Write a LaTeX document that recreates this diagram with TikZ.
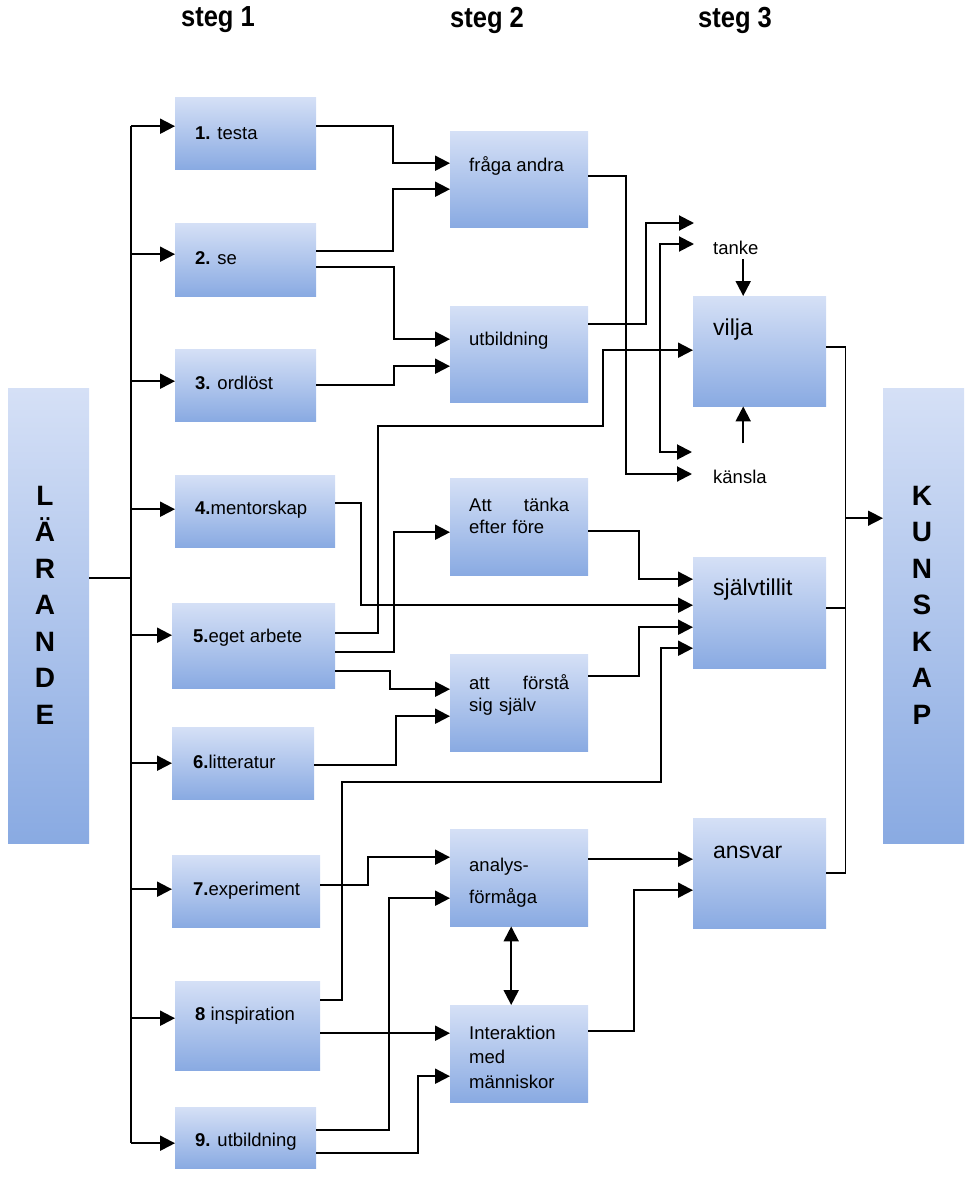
\documentclass[tikz,border=0pt]{standalone}
\usepackage{fontspec}
\setmainfont{Liberation Sans}
\usetikzlibrary{arrows.meta}
\definecolor{boxtop}{RGB}{213,224,246}
\definecolor{boxbot}{RGB}{137,170,226}
\begin{document}
\begin{tikzpicture}[x=1pt,y=-1pt,
	box/.style={anchor=north west, inner sep=0pt, top color=boxtop, bottom color=boxbot},
	sz/.style 2 args={minimum width=#1pt, minimum height=#2pt},
	txt/.style={inner sep=0pt, font=\fontsize{18.5}{22}\selectfont},
	big/.style={inner sep=0pt, anchor=west, font=\fontsize{23}{26}\selectfont},
	head/.style={inner sep=0pt, font=\bfseries\fontsize{29}{32}\selectfont},
	tall/.style={inner sep=0pt, align=center, font=\bfseries\fontsize{28}{36.5}\selectfont},
	link/.style={line width=2pt},
	rlink/.style={line width=1.5pt},
	arr/.style={line width=2pt, -{Triangle[length=15pt,width=15pt]}},
	dbl/.style={line width=2pt, {Triangle[length=15pt,width=15pt]}-{Triangle[length=15pt,width=15pt]}}]
	\useasboundingbox (0,0) rectangle (969,1178);
	% headings
	\node[head] (h1) at (218,20) {\scalebox{.88}[1]{steg 1}};
	\node[head] (h2) at (487,20) {\scalebox{.88}[1]{steg 2}};
	\node[head] (h3) at (735,20) {\scalebox{.88}[1]{steg 3}};
	% the two bars
	\node[box, sz={81}{455}] (lar) at (8,388) {};
	\node[tall] (lar-t) at (45,605) {L\\Ä\\R\\A\\N\\D\\E};
	\node[box, sz={81}{455}] (kun) at (883,388) {};
	\node[tall] (kun-t) at (922,605) {K\\U\\N\\S\\K\\A\\P};
	% steg 1
	\node[box, sz={141}{72}] (testa) at (175,97) {};
	\node[box, sz={141}{73}] (se) at (175,223) {};
	\node[box, sz={141}{72}] (ordlost) at (175,349) {};
	\node[box, sz={160}{72}] (mentor) at (175,475) {};
	\node[box, sz={163}{85}] (eget) at (172,603) {};
	\node[box, sz={142}{72}] (litt) at (172,727) {};
	\node[box, sz={148}{72}] (exper) at (172,855) {};
	\node[box, sz={145}{89}] (insp) at (175,981) {};
	\node[box, sz={141}{61}] (utb9) at (175,1107) {};
	\node[txt, anchor=west] (testa-t) at ([xshift=20pt]testa.west) {\textbf{1.} testa};
	\node[txt, anchor=west] (se-t) at ([xshift=20pt,yshift=1.5pt]se.west) {\textbf{2.} se};
	\node[txt, anchor=west] (ordlost-t) at ([xshift=20pt,yshift=2pt]ordlost.west) {\textbf{3.} ordlöst};
	\node[txt, anchor=west] (mentor-t) at ([xshift=20pt,yshift=1pt]mentor.west) {\textbf{4.}mentorskap};
	\node[txt, anchor=west] (eget-t) at ([xshift=21pt,yshift=7.5pt]eget.west) {\textbf{5.}eget arbete};
	\node[txt, anchor=west] (litt-t) at ([xshift=21pt,yshift=1pt]litt.west) {\textbf{6.}litteratur};
	\node[txt, anchor=west] (exper-t) at ([xshift=21pt]exper.west) {\textbf{7.}experiment};
	\node[txt, anchor=west] (insp-t) at ([xshift=20pt,yshift=9.5pt]insp.west) {\textbf{8} inspiration};
	\node[txt, anchor=west] (utb9-t) at ([xshift=20pt,yshift=-4.5pt]utb9.west) {\textbf{9.} utbildning};
	% steg 2
	\node[box, sz={138}{96}] (fraga) at (450,131) {};
	\node[box, sz={138}{96}] (utb2) at (450,306) {};
	\node[box, sz={138}{97}] (tanka) at (450,478) {};
	\node[box, sz={138}{97}] (forsta) at (450,654) {};
	\node[box, sz={138}{97}] (analys) at (450,829) {};
	\node[box, sz={138}{97}] (inter) at (450,1005) {};
	\node[txt, anchor=west] (fraga-t) at ([xshift=19pt,yshift=-35pt]fraga.north west) {fråga andra};
	\node[txt, anchor=west] (utb2-t) at ([xshift=19pt,yshift=-35pt]utb2.north west) {utbildning};
	\node[txt, anchor=north west, text width=100pt, align=left] (tanka-t)
		at ([xshift=19pt,yshift=-20pt]tanka.north west) {Att\hfill tänka\\efter före};
	\node[txt, anchor=north west, text width=100pt, align=left] (forsta-t)
		at ([xshift=19pt,yshift=-20pt]forsta.north west) {att\hfill förstå\\sig själv};
	\node[txt, anchor=north west, text width=100pt, align=left, font=\fontsize{18.5}{32}\selectfont] (analys-t)
		at ([xshift=19pt,yshift=-28.5pt]analys.north west) {analys-\\förmåga};
	\node[txt, anchor=north west, text width=110pt, align=left, font=\fontsize{18.5}{24.5}\selectfont] (inter-t)
		at ([xshift=19pt,yshift=-20.5pt]inter.north west) {Interaktion\\med\\människor};
	% steg 3
	\node[box, sz={133}{110}] (vilja) at (693,296) {};
	\node[box, sz={133}{111}] (sjalv) at (693,557) {};
	\node[box, sz={133}{110}] (ansvar) at (693,818) {};
	\node[big] (vilja-t) at ([xshift=20pt,yshift=-34pt]vilja.north west) {vilja};
	\node[big] (sjalv-t) at ([xshift=20pt,yshift=-33pt]sjalv.north west) {självtillit};
	\node[big] (ansvar-t) at ([xshift=20pt,yshift=-34pt]ansvar.north west) {ansvar};
	\node[txt, anchor=west] (tanke) at ([xshift=20pt,yshift=48pt]vilja.north west) {tanke};
	\node[txt, anchor=west] (kansla) at ([xshift=20pt,yshift=-70pt]vilja.south west) {känsla};
	\coordinate (up1) at (694,223);
	\coordinate (up2) at (694,244);
	\coordinate (dn1) at (692,452);
	\coordinate (dn2) at (692,474);
	% from LÄRANDE to steg 1
	\draw[link] ([yshift=37.5pt]lar.east) -- ++(42,0) coordinate (trunk);
	\draw[link] ([yshift=7pt]testa.west -| trunk) -- ([yshift=-5.5pt]utb9.west -| trunk);
	\foreach \n/\s in {testa/7,se/5.5,ordlost/4,mentor/2,eget/10.5,litt/0,exper/2,insp/7.5,utb9/-5.5}
		\draw[arr] ([yshift=\s pt]\n.west -| trunk) -- ([yshift=\s pt]\n.west);
	% steg 1 to steg 2
	\draw[arr] ([yshift=7pt]testa.east) -- ++(77,0) |- ([yshift=16pt]fraga.west);
	\draw[arr] ([yshift=8.5pt]se.east) -- ++(77,0) |- ([yshift=-10pt]fraga.west);
	\draw[arr] ([yshift=-7.5pt]se.east) -- ++(78,0) |- ([yshift=15pt]utb2.west);
	\draw[arr] (ordlost.east) -- ++(78,0) |- ([yshift=-12pt]utb2.west);
	\draw[arr] ([yshift=-6.5pt]eget.east) -- ++(59,0) |- ([yshift=-5.5pt]tanka.west);
	\draw[arr] ([yshift=-25.5pt]eget.east) -- ++(55,0) |- ([yshift=13.5pt]forsta.west);
	\draw[arr] ([yshift=-2pt]litt.east) -- ++(82,0) |- ([yshift=-13.5pt]forsta.west);
	\draw[arr] ([yshift=6pt]exper.east) -- ++(48,0) |- ([yshift=20.5pt]analys.west);
	\draw[arr] ([yshift=7.5pt]utb9.east) -- ++(73,0) |- ([yshift=-20.5pt]analys.west);
	\draw[arr] ([yshift=-7.5pt]insp.east) -- ([yshift=-7.5pt]insp.east -| inter.west);
	\draw[arr] ([yshift=-15.5pt]utb9.east) -- ++(102,0) |- ([yshift=-22.5pt]inter.west);
	% steg 1 straight to steg 3
	\draw[arr] ([yshift=12.5pt]eget.east) -- ++(43,0) -- ++(0,-207) -- ++(225,0) |- ([yshift=1pt]vilja.west);
	\draw[arr] ([yshift=8pt]mentor.east) -- ++(26,0) |- ([yshift=7.5pt]sjalv.west);
	\draw[arr] ([yshift=25.5pt]insp.east) -- ++(22,0) -- ++(0,-218) -- ++(319,0) |- ([yshift=-35.5pt]sjalv.west);
	% steg 2 to steg 3
	\draw[arr] ([yshift=3pt]fraga.east) -- ++(38,0) |- (dn2);
	\draw[arr] ([yshift=30pt]utb2.east) -- ++(58,0) |- (up1);
	\draw[dbl] (up2) -- ++(-34,0) |- (dn1);
	\draw[arr] ([yshift=-4.5pt]tanka.east) -- ++(51,0) |- ([yshift=33.5pt]sjalv.west);
	\draw[arr] ([yshift=26.5pt]forsta.east) -- ++(51,0) |- ([yshift=-14.5pt]sjalv.west);
	\draw[arr] ([yshift=18.5pt]analys.east) -- ([yshift=18.5pt]analys.east -| ansvar.west);
	\draw[arr] ([yshift=22.5pt]inter.east) -- ++(46,0) |- ([yshift=-17pt]ansvar.west);
	\draw[dbl] ([xshift=-8pt]analys.south) -- ([xshift=-8pt]inter.north);
	% tanke and känsla
	\draw[arr] ([xshift=-16.5pt,yshift=37pt]vilja.north) -- ([xshift=-16.5pt]vilja.north);
	\draw[arr] ([xshift=-16.5pt,yshift=-37pt]vilja.south) -- ([xshift=-16.5pt]vilja.south);
	% steg 3 to KUNSKAP
	\draw[rlink] ([yshift=4pt]vilja.east) -- ++(19,0) coordinate (rt) |- (ansvar.east);
	\draw[rlink] ([yshift=4.5pt]sjalv.east) -- ([yshift=4.5pt]sjalv.east -| rt);
	\draw[arr, line width=1.5pt] ([yshift=97.5pt]kun.west -| rt) -- ([yshift=97.5pt]kun.west);
\end{tikzpicture}
\end{document}
